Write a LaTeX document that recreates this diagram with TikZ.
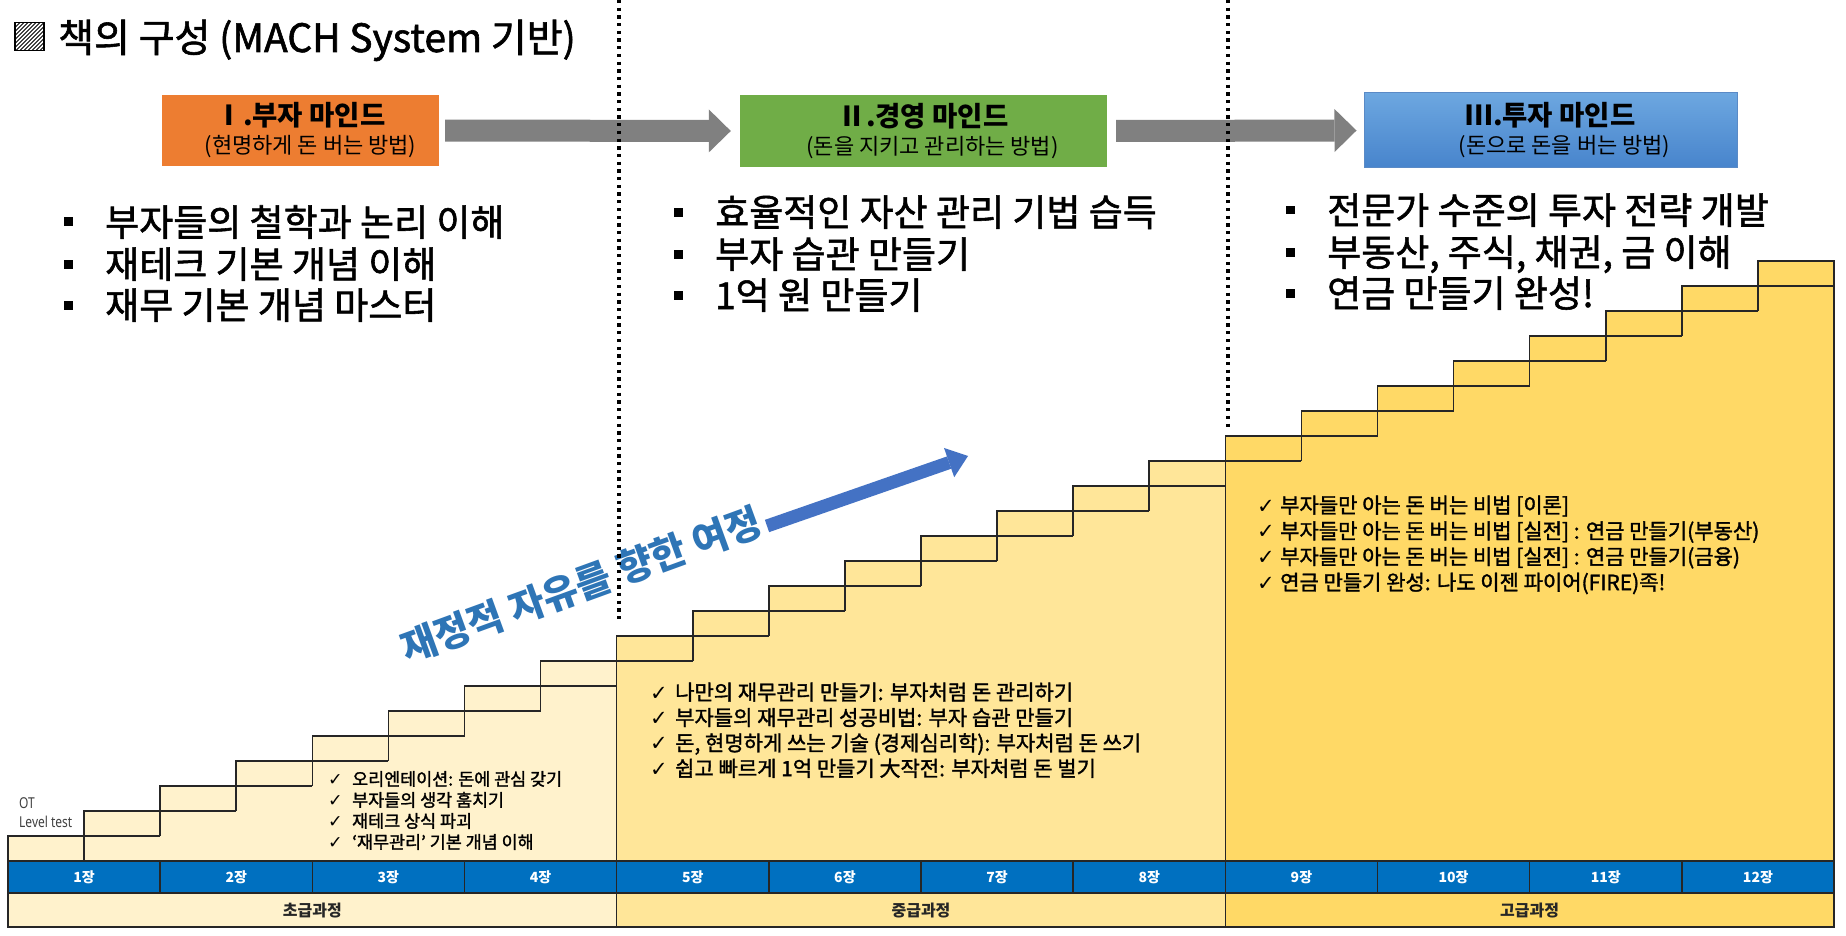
\documentclass[tikz,border=0pt]{standalone}
\usepackage{fontspec}
\setmainfont{Noto Sans CJK KR}
\newfontfamily\kr{Noto Sans CJK KR}
\newfontfamily\krm[FakeBold=1.5]{Noto Sans CJK KR}
\newfontfamily\dv{DejaVu Sans}
\newfontfamily\otfont[FakeStretch=0.8]{Noto Sans}
\usetikzlibrary{arrows.meta}
\definecolor{secA}{HTML}{FFF2CC}
\definecolor{secB}{HTML}{FFE699}
\definecolor{secC}{HTML}{FFD966}
\definecolor{bandblue}{HTML}{0070C0}
\definecolor{orangebox}{HTML}{ED7D31}
\definecolor{greenbox}{HTML}{70AD47}
\definecolor{bluetop}{HTML}{6DA7E0}
\definecolor{bluebot}{HTML}{4784CC}
\definecolor{blueedge}{HTML}{5A8AC6}
\definecolor{arrowgray}{HTML}{808080}
\definecolor{journey}{HTML}{4472C4}
\definecolor{journeytext}{HTML}{2E75B6}
\definecolor{linedark}{HTML}{262626}
\definecolor{otgray}{HTML}{404040}
\newcommand\mybul{\makebox[41.5pt][l]{\raisebox{9.5pt}{\rule{9pt}{9pt}}}}
\newcommand\myck[1]{\makebox[#1][l]{\dv ✓}}
\begin{document}
\begin{tikzpicture}[x=1pt,y=-1pt,
  stepline/.style={draw=linedark, line width=1.6pt},
  dotsep/.style={draw=black, line width=3.3pt, dash pattern=on 3.3pt off 4.4pt},
  mindbox/.style={inner sep=0pt, align=center, font=\kr\fontsize{22}{28}\selectfont},
  bigbullet/.style={anchor=base west, inner sep=0pt, font=\krm\fontsize{37}{44}\selectfont},
  cksmall/.style={anchor=base west, inner sep=0pt, font=\krm\fontsize{17.4}{20}\selectfont},
  ckbig/.style={anchor=base west, inner sep=0pt, font=\krm\fontsize{21}{24}\selectfont},
  bandlabel/.style={anchor=base, inner sep=0pt, text=white, font=\kr\bfseries\fontsize{14}{16}\selectfont},
  levellabel/.style={anchor=base, inner sep=0pt, text=linedark, font=\kr\bfseries\fontsize{16}{18}\selectfont},
  grayarrow/.style={draw=arrowgray, line width=22pt, -{Triangle[length=22pt, width=43pt, line width=0pt]}},
  journeyarrow/.style={draw=journey, line width=13pt, -{Triangle[length=20pt, width=31pt, line width=0pt]}},
  ottext/.style={anchor=base west, inner sep=0pt, text=otgray, font=\otfont\fontsize{15}{18}\selectfont}]
\useasboundingbox (0,0) rectangle (1846,936);
\fill[white] (0,0) rectangle (1846,936);
\def\hw{76.0833}
% title
\draw[line width=1.5pt] (15,22.5) rectangle (44,50.5);
\begin{scope}
  \clip (15,22.5) rectangle (44,50.5);
  \foreach \i in {-24,-20,...,44} \draw[line width=1pt] (\i,50.5) -- ++(28,-28);
\end{scope}
\node[anchor=base west, inner sep=0pt, font=\krm\fontsize{39}{44}\selectfont] (title) at (58,52) {책의 구성 (MACH System 기반)};
% mind boxes
\node[mindbox, fill=orangebox, minimum width=277pt, minimum height=71pt] (b1) at (300.5,130.5)
  {{\bfseries\fontsize{27.5}{28}\selectfont Ⅰ.부자 마인드}\\\hspace*{20pt}(현명하게 돈 버는 방법)};
\node[mindbox, fill=greenbox, minimum width=367pt, minimum height=72pt] (b2) at (923.5,131)
  {{\bfseries\fontsize{27.5}{28}\selectfont Ⅱ.경영 마인드}\\\hspace*{18pt}(돈을 지키고 관리하는 방법)};
\node[mindbox, top color=bluetop, bottom color=bluebot, draw=blueedge, line width=1pt, minimum width=373pt, minimum height=75pt] (b3) at (1550.5,130.5)
  {{\bfseries\fontsize{27.5}{28}\selectfont Ⅲ.투자 마인드}\\\hspace*{28pt}(돈으로 돈을 버는 방법)};
\draw[grayarrow, shorten <=6pt, shorten >=9pt] (b1.east) -- (b2.west);
\draw[grayarrow, shorten <=9pt, shorten >=7pt] (b2.east) -- (b3.west);
% big bullets
\node[bigbullet] (p11) at (63.5,236) {\mybul 부자들의 철학과 논리 이해};
\node[bigbullet] (p12) at (63.5,278) {\mybul 재테크 기본 개념 이해};
\node[bigbullet] (p13) at (63.5,319) {\mybul 재무 기본 개념 마스터};
\node[bigbullet] (p21) at (673.5,226) {\mybul 효율적인 자산 관리 기법 습득};
\node[bigbullet] (p22) at (673.5,268) {\mybul 부자 습관 만들기};
\node[bigbullet] (p23) at (673.5,309) {\mybul 1억 원 만들기};
\node[bigbullet] (p31) at (1285.5,224) {\mybul 전문가 수준의 투자 전략 개발};
\node[bigbullet] (p32) at (1285.5,266) {\mybul 부동산, 주식, 채권, 금 이해};
\node[bigbullet] (p33) at (1285.5,307) {\mybul 연금 만들기 완성!};
% staircase fills
\foreach \s/\scol in {1/secA,2/secB,3/secC}{
  \pgfmathtruncatemacro\ka{8*(\s-1)+1}
  \pgfmathtruncatemacro\kb{8*\s}
  \pgfmathsetmacro\xs{8+(\ka-1)*\hw}
  \pgfmathsetmacro\xe{8+\kb*\hw}
  \filldraw[fill=\scol, stepline, line join=miter]
    (\xs,861) \foreach \k in {\ka,...,\kb}{ -- ({8+(\k-1)*\hw},{861-25*\k}) -- ({8+\k*\hw},{861-25*\k}) } -- (\xe,861) -- cycle;
}
% bricks
\foreach \k in {1,...,24}{
  \pgfmathsetmacro\xa{8+(\k-1)*\hw}
  \pgfmathsetmacro\xb{min(8+(\k+1)*\hw,1834)}
  \pgfmathsetmacro\yt{861-25*\k}
  \pgfmathsetmacro\yb{min(\yt+50,861)}
  \draw[stepline] (\xa,\yb) -- (\xa,\yt) -- (\xb,\yt);
}
% chapter band
\fill[bandblue] (8,861) rectangle (1834,893);
\foreach \i in {1,...,11} \draw[stepline] ({8+\i*152.1667},861) -- ({8+\i*152.1667},893);
\draw[stepline] (8,861) rectangle (1834,893);
\foreach \i in {1,...,12} \node[bandlabel, name=ch\i] at ({8+(\i-0.5)*152.1667},882.5) {{\i}장};
% level band
\foreach \s/\scol/\lab in {1/secA/초급과정,2/secB/중급과정,3/secC/고급과정}{
  \filldraw[fill=\scol, stepline] ({8+(\s-1)*608.6667},893) rectangle ({8+\s*608.6667},927);
  \node[levellabel, name=lv\s] at ({8+(\s-0.5)*608.6667},916) {\lab};
}
% OT
\node[ottext] (ot1) at (19,808) {OT};
\node[ottext] (ot2) at (19,827) {Level test};
% checklists
\foreach \t [count=\i] in {오리엔테이션: 돈에 관심 갖기, 부자들의 생각 훔치기, 재테크 상식 파괴, ‘재무관리’ 기본 개념 이해}
  \node[cksmall, name=ca\i] at (328,{785.5+21*(\i-1)}) {\myck{24pt}\t};
\foreach \t [count=\i] in {나만의 재무관리 만들기: 부자처럼 돈 관리하기, 부자들의 재무관리 성공비법: 부자 습관 만들기, {돈, 현명하게 쓰는 기술 (경제심리학): 부자처럼 돈 쓰기}, 쉽고 빠르게 1억 만들기 大작전: 부자처럼 돈 벌기}
  \node[ckbig, name=cb\i] at (650,{700+25.4*(\i-1)}) {\myck{25pt}\t};
\foreach \t [count=\i] in {부자들만 아는 돈 버는 비법 [이론], 부자들만 아는 돈 버는 비법 [실전] : 연금 만들기(부동산), 부자들만 아는 돈 버는 비법 [실전] : 연금 만들기(금융), 연금 만들기 완성: 나도 이젠 파이어(FIRE)족!}
  \node[ckbig, name=cc\i] at (1257,{513+25.7*(\i-1)}) {\myck{23pt}\t};
% journey
\node[rotate=20, inner sep=0pt, text=journeytext, font=\kr\bfseries\fontsize{38.5}{44}\selectfont] (jtext) at (581,585) {재정적 자유를 향한 여정};
\coordinate (jt) at (767,526);
\coordinate (jh) at (968,456);
\draw[journeyarrow] (jt) -- (jh);
% dotted dividers
\draw[dotsep] (619,0) -- (619,620);
\draw[dotsep] (1228,0) -- (1228,428);
\end{tikzpicture}
\end{document}
